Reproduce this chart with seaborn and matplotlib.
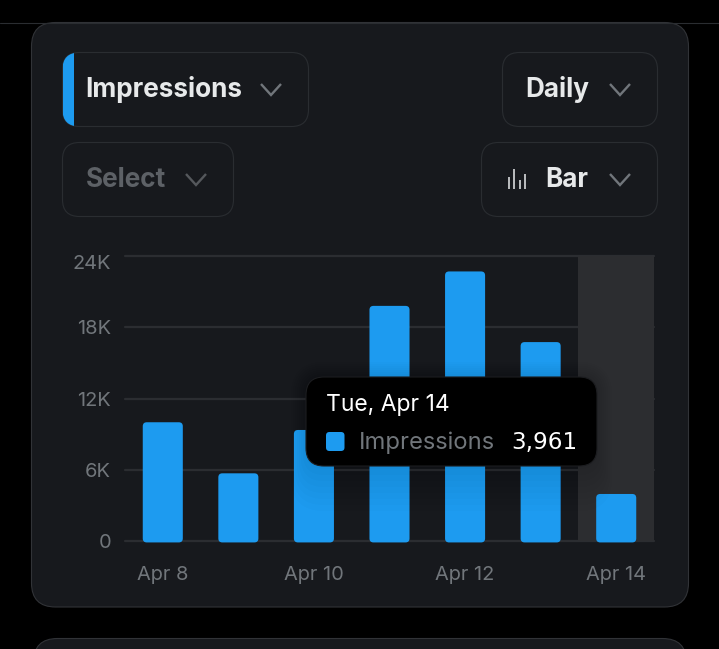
#!/usr/bin/env python
from __future__ import annotations

import matplotlib
matplotlib.use("Agg")
import matplotlib.pyplot as plt
from matplotlib.patches import FancyBboxPatch, Rectangle
from matplotlib.transforms import ScaledTranslation
import pandas as pd
import seaborn as sns

# chart values
dates = ["Apr 8", "Apr 9", "Apr 10", "Apr 11", "Apr 12", "Apr 13", "Apr 14"]
impressions = [10000, 5700, 9350, 19800, 22700, 16750, 3961]
y_ticks = [0, 6000, 12000, 18000, 24000]
y_labels = ["0", "6K", "12K", "18K", "24K"]
x_tick_labels = ["Apr 8", "Apr 10", "Apr 12", "Apr 14"]

BLUE = "#1d9bf0"
CARD = "#17191d"
EDGE = "#2a2d31"
GRID = "#2b2d31"
MUTED = "#71767b"
LIGHT = "#e7e9ea"
W, H = 719, 649

sns.set_theme(style="dark")
plt.rcParams["font.family"] = ["Inter", "DejaVu Sans"]


def box(ax, x0, y0, x1, y1, r, **kw):
    patch = FancyBboxPatch((x0 + r, y0 + r), x1 - x0 - 2 * r, y1 - y0 - 2 * r,
                           boxstyle=f"round,pad={r},rounding_size={r}", **kw)
    ax.add_patch(patch)
    return patch


def chevron(ax, x, y, color=MUTED):
    ax.plot([x - 10, x, x + 10], [y - 5.5, y + 5.5, y - 5.5], color=color, lw=1.7,
            solid_joinstyle="miter", solid_capstyle="butt")


def pixel_axes(fig, zorder):
    ax = fig.add_axes([0, 0, 1, 1], zorder=zorder)
    ax.set_xlim(0, W)
    ax.set_ylim(H, 0)
    ax.axis("off")
    ax.patch.set_alpha(0)
    return ax


def draw_background(ax):
    ax.plot([0, W], [22.5, 22.5], color=EDGE, lw=0.8)
    box(ax, 31.5, 22.5, 688.5, 607, 24, fc=CARD, ec="#313337", lw=0.8)
    box(ax, 33.5, 638.5, 686.5, 700, 24, fc=CARD, ec="#313337", lw=0.8)

    # dropdown controls
    first = box(ax, 62.5, 52.5, 308.5, 126.5, 17, fc=CARD, ec=EDGE, lw=0.8)
    box(ax, 62.5, 142.5, 233.5, 216.5, 17, fc=CARD, ec=EDGE, lw=0.8)
    box(ax, 502.5, 52.5, 657.5, 126.5, 17, fc=CARD, ec=EDGE, lw=0.8)
    box(ax, 481.5, 142.5, 657.5, 216.5, 17, fc=CARD, ec=EDGE, lw=0.8)
    strip = Rectangle((62.5, 52.5), 11.5, 74, fc=BLUE, ec="none")
    ax.add_patch(strip)
    strip.set_clip_path(first)

    ax.text(85, 97, "Impressions", color=LIGHT, fontsize=18.8, fontweight="bold")
    ax.text(85.5, 187, "Select", color="#5d6166", fontsize=18.8, fontweight="bold")
    ax.text(525, 97, "Daily", color=LIGHT, fontsize=18.8, fontweight="bold")
    ax.text(545.5, 187, "Bar", color=LIGHT, fontsize=18.8, fontweight="bold")
    chevron(ax, 271, 89.5)
    chevron(ax, 196, 179.5, "#55585c")
    chevron(ax, 620, 89.5)
    chevron(ax, 620, 179.5)

    # little bar chart icon
    for x, top in zip([509, 514, 519.5, 525], [177, 169, 180, 174]):
        ax.plot([x, x], [top, 188.5], color="#c9cbcd", lw=1.3, solid_capstyle="butt")


def draw_chart(ax):
    df = pd.DataFrame({"date": dates, "impressions": impressions})
    sns.barplot(data=df, x="date", y="impressions", color=BLUE, saturation=1, width=0.53,
                ax=ax, zorder=3)
    ax.set_xlim(-0.5, 6.5)
    ax.set_ylim(0, 24000)
    ax.patch.set_alpha(0)
    ax.grid(axis="y", color=GRID, lw=1.6, clip_on=False)
    ax.grid(axis="x", visible=False)
    ax.set_axisbelow(True)
    for spine in ax.spines.values():
        spine.set_visible(False)

    # swap the square bars for rounded ones, same geometry
    x_unit = ax.get_position().width * W / 7
    y_unit = ax.get_position().height * H / 24000
    for bar in list(ax.patches):
        r = 4 / x_unit
        pad_y = r * x_unit / y_unit
        ax.add_patch(FancyBboxPatch(
            (bar.get_x() + r, bar.get_y() + pad_y - 120),
            bar.get_width() - 2 * r, bar.get_height() - 2 * pad_y + 120,
            boxstyle=f"round,pad={r},rounding_size={r}", mutation_aspect=x_unit / y_unit,
            fc=BLUE, ec="none", zorder=3, clip_on=False))
        bar.set_visible(False)
    ax.axvspan(5.5, 6.5, color="#2c2d30", lw=0, zorder=2)

    ax.set_yticks(y_ticks, y_labels)
    ax.set_xticks([0, 2, 4, 6], x_tick_labels)
    ax.tick_params(axis="both", length=0, colors=MUTED, labelsize=14.4)
    ax.tick_params(axis="y", pad=10)
    ax.tick_params(axis="x", pad=18)
    ax.set_xlabel("")
    ax.set_ylabel("")
    # top label sits a little under its gridline
    top_label = ax.get_yticklabels()[-1]
    top_label.set_transform(top_label.get_transform()
                            + ScaledTranslation(0, -6 / 100, ax.figure.dpi_scale_trans))


def draw_tooltip(ax):
    # soft shadow
    for grow in range(1, 16, 2):
        box(ax, 306 - grow, 377 - grow, 597 + grow, 466 + grow * 3, 18 + grow,
            fc="black", ec="none", alpha=0.012)
    box(ax, 306, 377, 597, 466, 18, fc="black", ec="#1c1d20", lw=0.8)
    ax.text(325.5, 411, "Tue, Apr 14", color="white", fontsize=16.5)
    box(ax, 326, 432, 344.5, 451, 3.5, fc=BLUE, ec="none")
    ax.text(359, 449, "Impressions", color=MUTED, fontsize=17.1)
    ax.text(577.5, 449, "3,961", color="white", fontsize=16.6, ha="right", family="DejaVu Sans")


def main() -> None:
    fig = plt.figure(figsize=(W / 100, H / 100), dpi=100, facecolor="black")
    draw_background(pixel_axes(fig, 0))

    left, right, top, bottom = 125, 654, 256, 541
    chart = fig.add_axes([left / W, 1 - bottom / H, (right - left) / W, (bottom - top) / H], zorder=1)
    draw_chart(chart)

    draw_tooltip(pixel_axes(fig, 2))
    fig.savefig("out.png", dpi=100, facecolor="black")
    plt.close(fig)


if __name__ == "__main__":
    main()
